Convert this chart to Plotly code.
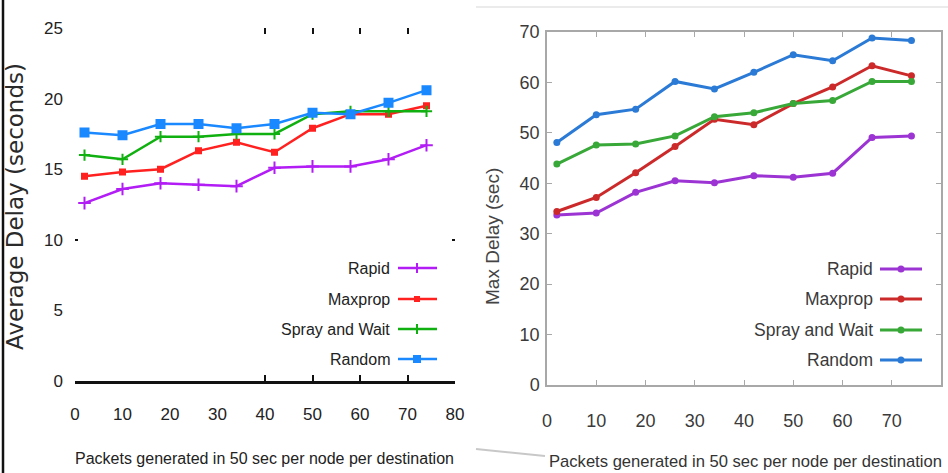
import plotly.graph_objects as go

# ---------------- data ----------------
packets = [2, 10, 18, 26, 34, 42, 50, 58, 66, 74]
x_ticks = [0, 10, 20, 30, 40, 50, 60, 70, 80]

rapid_avg = [12.6, 13.6, 14.0, 13.9, 13.8, 15.1, 15.2, 15.2, 15.7, 16.7]
maxprop_avg = [14.5, 14.8, 15.0, 16.3, 16.9, 16.2, 17.9, 18.9, 18.9, 19.5]
spray_avg = [16.0, 15.7, 17.3, 17.3, 17.5, 17.5, 18.9, 19.1, 19.1, 19.1]
random_avg = [17.6, 17.4, 18.2, 18.2, 17.9, 18.2, 19.0, 18.9, 19.7, 20.6]
avg_ticks = [0, 5, 10, 15, 20, 25]

rapid_max = [33.7, 34.1, 38.2, 40.5, 40.1, 41.5, 41.2, 42.0, 49.1, 49.4]
maxprop_max = [34.4, 37.2, 42.1, 47.3, 52.7, 51.6, 55.8, 59.1, 63.3, 61.3]
spray_max = [43.8, 47.6, 47.8, 49.4, 53.2, 54.0, 55.8, 56.4, 60.2, 60.2]
random_max = [48.1, 53.6, 54.7, 60.2, 58.7, 62.0, 65.5, 64.3, 68.8, 68.3]
max_ticks = [0, 10, 20, 30, 40, 50, 60, 70]

series_names = ["Rapid", "Maxprop", "Spray and Wait", "Random"]
x_title = "Packets generated in 50 sec per node per destination"
left_y_title = "Average Delay (seconds)"
right_y_title = "Max Delay (sec)"

# ---------------- styles ----------------
W, H = 948, 473
SANS = "Liberation Sans, Arial, sans-serif"

left_colors = ["#b21cf5", "#ff2020", "#10b010", "#1a88ff"]
left_symbols = ["cross-thin-open", "square", "cross-thin-open", "square"]
left_sizes = [9, 5, 8, 8]
right_colors = ["#9c34d4", "#cc2a2a", "#38a838", "#2a7ad6"]


def px(x):
    return x / W


def py(y):
    return 1 - y / H


fig = go.Figure()

left_vals = [rapid_avg, maxprop_avg, spray_avg, random_avg]
for name, vals, c, s, sz in zip(series_names, left_vals, left_colors, left_symbols, left_sizes):
    fig.add_trace(go.Scatter(
        x=packets, y=vals, name=name, mode="lines+markers",
        line=dict(color=c, width=2.5),
        marker=dict(symbol=s, size=sz, color=c, line=dict(color=c, width=2)),
        xaxis="x", yaxis="y", showlegend=False))

right_vals = [rapid_max, maxprop_max, spray_max, random_max]
for name, vals, c in zip(series_names, right_vals, right_colors):
    fig.add_trace(go.Scatter(
        x=packets, y=vals, name=name, mode="lines+markers",
        line=dict(color=c, width=3),
        marker=dict(symbol="circle", size=7, color=c),
        xaxis="x2", yaxis="y2", showlegend=False))

# empty helper traces so the overlay tick axes are drawn
for xa, ya in [("x3", "y"), ("x4", "y"), ("x", "y3")]:
    fig.add_trace(go.Scatter(x=[], y=[], xaxis=xa, yaxis=ya, showlegend=False,
                             hoverinfo="skip"))

left_xdom = [px(75), px(455)]
left_ydom = [py(381), py(28)]
right_xdom = [px(547), px(941)]
right_ydom = [py(385), py(32)]

tickfont_left = dict(family=SANS, size=17, color="#222")
tickfont_right = dict(family=SANS, size=18, color="#3a3a3a")

common = dict(automargin=False, showgrid=False, zeroline=False)

fig.update_layout(
    template="none",
    width=W, height=H,
    margin=dict(l=0, r=0, t=0, b=0, pad=0, autoexpand=False),
    paper_bgcolor="white", plot_bgcolor="rgba(0,0,0,0)",
    xaxis=dict(domain=left_xdom, anchor="y", range=[0, 80], tickvals=x_ticks,
               ticktext=[str(v) for v in x_ticks], tickfont=tickfont_left,
               showline=True, linecolor="#111",
               linewidth=2.5, ticks="", ticklabelstandoff=16, **common),
    yaxis=dict(domain=left_ydom, anchor="x", range=[0, 25], tickvals=avg_ticks,
               ticktext=[str(v) for v in avg_ticks], tickfont=tickfont_left,
               showline=False, ticks="", ticklabelstandoff=11, **common),
    xaxis3=dict(overlaying="x", anchor="y", side="bottom", range=[0, 80],
                tickvals=[40, 50, 60, 70], ticks="inside", ticklen=6, tickwidth=2,
                tickcolor="#111", showticklabels=False, showline=False, **common),
    xaxis4=dict(overlaying="x", anchor="y", side="top", range=[0, 80],
                tickvals=[40, 50, 60, 70], ticks="inside", ticklen=6, tickwidth=2,
                tickcolor="#111", showticklabels=False, showline=False, **common),
    yaxis3=dict(overlaying="y", anchor="x", side="left", range=[0, 25],
                tickvals=[10], ticks="inside", ticklen=3, tickwidth=2,
                tickcolor="#111", showticklabels=False, showline=False,
                mirror="ticks", **common),
    xaxis2=dict(domain=right_xdom, anchor="y2", range=[0, 80], tickvals=x_ticks,
                ticktext=[str(v) for v in x_ticks], tickfont=tickfont_right,
                showline=True, linecolor="#a8a8a8",
                linewidth=1.5, mirror="ticks", ticks="inside", ticklen=5,
                tickcolor="#a8a8a8", ticklabelstandoff=19, **common),
    yaxis2=dict(domain=right_ydom, anchor="x2", range=[0, 70], tickvals=max_ticks,
                ticktext=[str(v) for v in max_ticks], tickfont=tickfont_right,
                showline=True, linecolor="#a8a8a8",
                linewidth=1.5, mirror="ticks", ticks="inside", ticklen=5,
                tickcolor="#a8a8a8", ticklabelstandoff=2, **common),
)

annotations = []
shapes = []

# axis titles
annotations.append(dict(xref="paper", yref="paper", x=px(264), y=py(458),
                        text=x_title, showarrow=False, xanchor="center", yanchor="middle",
                        font=dict(family=SANS, size=16, color="#222")))
annotations.append(dict(xref="paper", yref="paper", x=px(15), y=py(207),
                        text=left_y_title, showarrow=False, textangle=-90,
                        xanchor="center", yanchor="middle",
                        font=dict(family="DejaVu Sans, sans-serif", size=23, color="#2a2a2a")))
annotations.append(dict(xref="paper", yref="paper", x=px(745), y=py(461),
                        text=x_title, showarrow=False, xanchor="center", yanchor="middle",
                        font=dict(family=SANS, size=16.6, color="#333")))
annotations.append(dict(xref="paper", yref="paper", x=px(492), y=py(237),
                        text=right_y_title, showarrow=False, textangle=-90,
                        xanchor="center", yanchor="middle",
                        font=dict(family=SANS, size=19, color="#444")))

# legends (gnuplot style: text left of sample)
left_rows = [268, 299, 329, 359]
right_rows = [269, 299, 330, 360]
for i, name in enumerate(series_names):
    yl = py(left_rows[i])
    annotations.append(dict(xref="paper", yref="paper", x=px(392), y=yl, text=name,
                            showarrow=False, xanchor="right", yanchor="middle",
                            font=dict(family=SANS, size=16, color="#222")))
    shapes.append(dict(type="line", xref="paper", yref="paper", x0=px(398), x1=px(437),
                       y0=yl, y1=yl, line=dict(color=left_colors[i], width=2.5)))
    if left_symbols[i] == "square":
        half = 4 if i == 3 else 3
        shapes.append(dict(type="rect", xref="paper", yref="paper", xsizemode="pixel",
                           ysizemode="pixel", xanchor=px(417), yanchor=yl,
                           x0=-half, x1=half, y0=-half, y1=half,
                           fillcolor=left_colors[i], line=dict(width=0)))
    else:
        shapes.append(dict(type="line", xref="paper", yref="paper", xsizemode="pixel",
                           ysizemode="pixel", xanchor=px(417), yanchor=yl,
                           x0=0, x1=0, y0=-5, y1=5,
                           line=dict(color=left_colors[i], width=2)))
    yr = py(right_rows[i])
    annotations.append(dict(xref="paper", yref="paper", x=px(875), y=yr, text=name,
                            showarrow=False, xanchor="right", yanchor="middle",
                            font=dict(family=SANS, size=17.5, color="#3a3a3a")))
    shapes.append(dict(type="line", xref="paper", yref="paper", x0=px(880), x1=px(922),
                       y0=yr, y1=yr, line=dict(color=right_colors[i], width=3)))
    shapes.append(dict(type="circle", xref="paper", yref="paper", xsizemode="pixel",
                       ysizemode="pixel", xanchor=px(901), yanchor=yr,
                       x0=-3.5, x1=3.5, y0=-3.5, y1=3.5,
                       fillcolor=right_colors[i], line=dict(width=0)))

# panel decorations
shapes.append(dict(type="line", xref="paper", yref="paper", x0=px(3), x1=px(3),
                   y0=0, y1=1, line=dict(color="#111", width=2.5)))
shapes.append(dict(type="line", xref="paper", yref="paper", x0=px(476), x1=1,
                   y0=py(7), y1=py(7), line=dict(color="#e4e4e4", width=1.5)))
shapes.append(dict(type="line", xref="paper", yref="paper", x0=px(476), x1=px(545),
                   y0=py(449), y1=py(456), line=dict(color="#c8c8c8", width=2)))

fig.update_layout(annotations=annotations, shapes=shapes)

fig.write_html("out.html",
               post_script="document.body.style.margin='0';document.body.style.overflow='hidden';")
